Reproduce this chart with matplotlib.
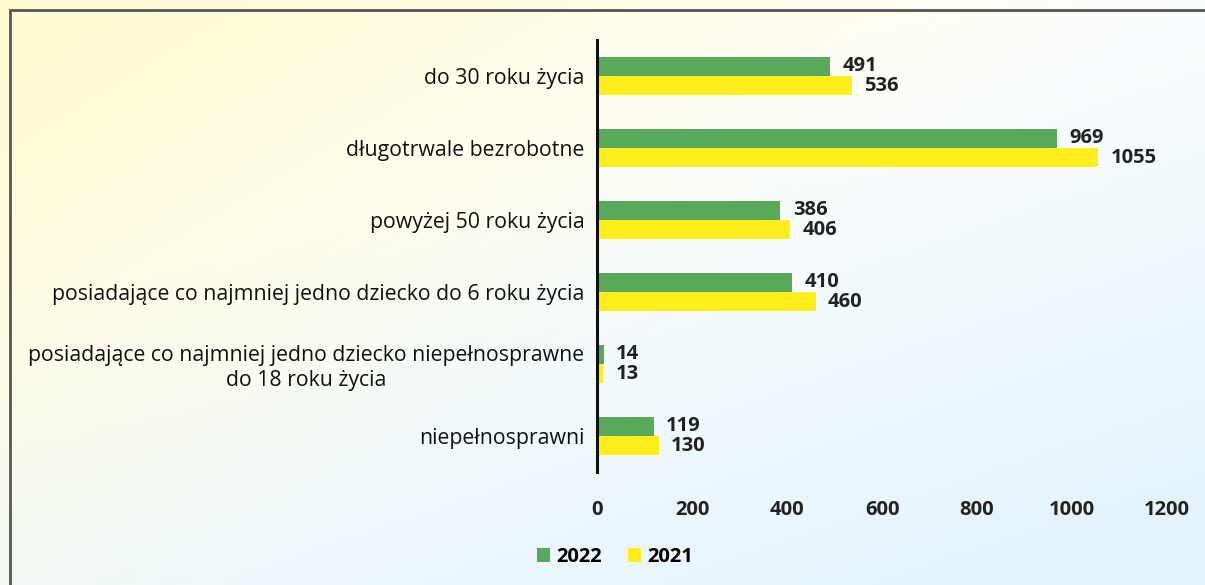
import numpy as np
import matplotlib.pyplot as plt
from matplotlib.patches import Rectangle

categories = ["do 30 roku życia", "długotrwale bezrobotne", "powyżej 50 roku życia",
              "posiadające co najmniej jedno dziecko do 6 roku życia",
              "posiadające co najmniej jedno dziecko niepełnosprawne\ndo 18 roku życia",
              "niepełnosprawni"]
v2022 = [491, 969, 386, 410, 14, 119]
v2021 = [536, 1055, 406, 460, 13, 130]
xticks = [0, 200, 400, 600, 800, 1000, 1200]

plt.rcParams['font.family'] = ['Open Sans', 'DejaVu Sans']

fig = plt.figure(figsize=(12.05, 5.85), dpi=100)

# background: pale yellow top-left, white middle, pale blue bottom-right
bg = fig.add_axes([0, 0, 1, 1], zorder=-10)
gx, gy = np.meshgrid(np.linspace(0, 1, 240), np.linspace(0, 1, 120))
yel = np.clip(1.0 - 1.0 * gx - 0.8 * gy, 0, 1)
blu = np.clip(0.7 * gx + 1.0 * gy - 0.55, 0, 1)
white = np.array([1.0, 1.0, 1.0])
cy = np.array([1.0, 0.985, 0.82])
cb = np.array([0.88, 0.95, 0.98])
img = (white[None, None, :] * (1 - yel[..., None] - blu[..., None] * 0.9)
       + cy[None, None, :] * yel[..., None] + cb[None, None, :] * blu[..., None] * 0.9)
bg.imshow(np.clip(img, 0, 1), aspect='auto', extent=[0, 1, 0, 1], origin='upper')
bg.axis('off')

fig.patches.append(Rectangle((10 / 1205, -0.05), 1.2, 1 - 10 / 585 + 0.05,
                             transform=fig.transFigure, fill=False,
                             edgecolor='#555555', linewidth=2))

ax = fig.add_axes([597 / 1205, 1 - 472 / 585, (1167 - 597) / 1205, 432 / 585])
ax.patch.set_alpha(0)
y = np.arange(len(categories))
h = 0.27
green = '#58A95A'
yellow = '#FFEE1C'
b1 = ax.barh(y - h / 2, v2022, height=h, color=green, label='2022')
b2 = ax.barh(y + h / 2, v2021, height=h, color=yellow, label='2021')
for bars, vals in ((b1, v2022), (b2, v2021)):
    for bar, v in zip(bars, vals):
        ax.annotate(str(v), (bar.get_width(), bar.get_y() + bar.get_height() / 2),
                    xytext=(9, 0), textcoords='offset points', va='center',
                    ha='left', fontsize=14.5, fontweight='bold', color='#222222')

ax.set_ylim(len(categories) - 0.5, -0.5)
ax.set_xlim(0, 1200)
ax.set_xticks(xticks)
ax.set_yticks(y)
ax.set_yticklabels(categories, fontsize=15.3, color='#111111')
for lab in ax.get_yticklabels():
    lab.set_multialignment('center')
ax.tick_params(axis='y', length=0, pad=9)
ax.tick_params(axis='x', length=0, pad=20, labelsize=14.5, labelcolor='#222222')
for lab in ax.get_xticklabels():
    lab.set_fontweight('bold')
for s in ['top', 'right', 'bottom']:
    ax.spines[s].set_visible(False)
ax.spines['left'].set_linewidth(2.2)
ax.spines['left'].set_color('#111111')

fig.legend(handles=[b1, b2], labels=['2022', '2021'], loc='center',
           bbox_to_anchor=(615 / 1205, 1 - 557 / 585), ncol=2, frameon=False,
           handlelength=0.65, handleheight=0.65, handletextpad=0.3,
           columnspacing=1.3, prop={'weight': 'bold', 'size': 14.5})

fig.savefig('out.png', dpi=100)
